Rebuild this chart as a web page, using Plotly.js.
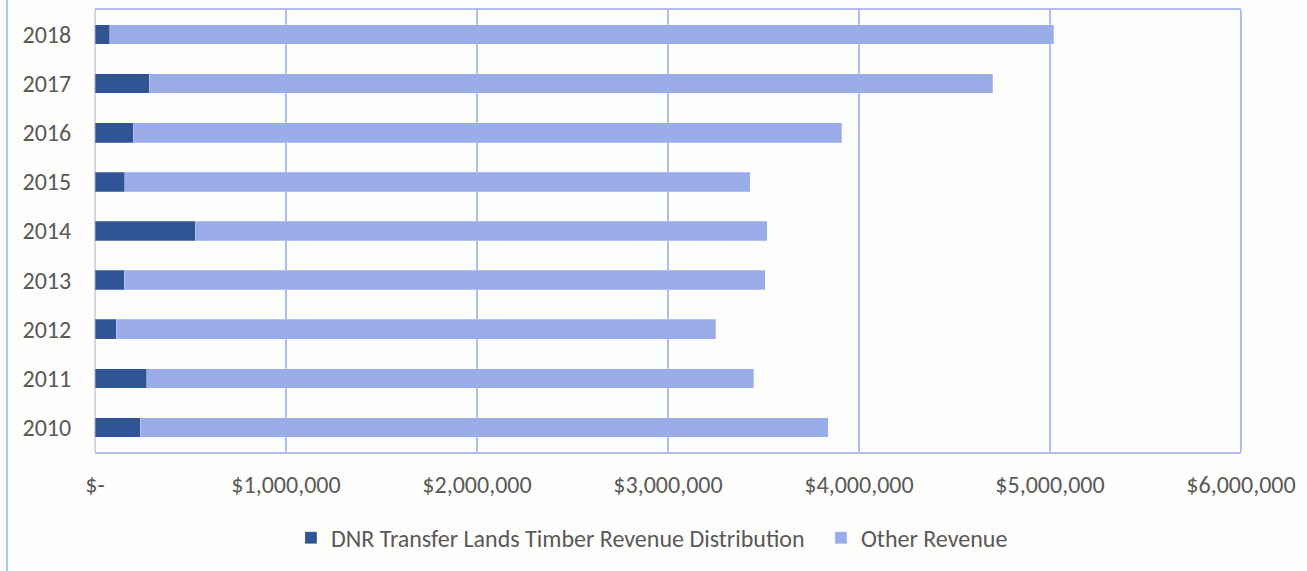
<!DOCTYPE html>
<html><head><meta charset="utf-8">
<script src="https://cdn.plot.ly/plotly-3.0.1.min.js"></script>
<style>html,body{margin:0;padding:0;background:#fdfdfb;}</style>
</head><body>
<div id="chart" style="width:1307px;height:571px;"></div>
<script>
var years = ['2010','2011','2012','2013','2014','2015','2016','2017','2018'];
var dnrTimber = [238000, 272000, 110000, 152000, 524000, 157000, 199000, 283000, 76000];
var otherRevenue = [3600000, 3178000, 3140000, 3358000, 2996000, 3273000, 3711000, 4417000, 4944000];
var tickValues = [0, 1000000, 2000000, 3000000, 4000000, 5000000, 6000000];
var tickLabels = ['$-', '$1,000,000', '$2,000,000', '$3,000,000', '$4,000,000', '$5,000,000', '$6,000,000'];

var fontFam = "Carlito, Calibri, 'Liberation Sans Narrow', sans-serif";
var frameColor = '#aebcef';

var traces = [
  {type:'bar', orientation:'h', y:years, x:dnrTimber, name:'DNR Transfer Lands Timber Revenue Distribution',
   legendwidth:485,
   marker:{color:'#2f5597', line:{color:'rgba(255,255,255,0.25)', width:1}}, hoverinfo:'x+y'},
  {type:'bar', orientation:'h', y:years, x:otherRevenue, name:'Other Revenue',
   marker:{color:'#9aade9', line:{color:'rgba(255,255,255,0.25)', width:1}}, hoverinfo:'x+y'}
];

var layout = {
  width:1307, height:571,
  margin:{l:95, r:66, t:10, b:111},
  paper_bgcolor:'#fdfdfb', plot_bgcolor:'#fdfdfb',
  barmode:'stack', bargap:0.6,
  font:{family:fontFam, color:'#595959', size:24},
  xaxis:{range:[0,6000000], tickvals:tickValues, ticktext:tickLabels,
         showgrid:true, gridcolor:frameColor, gridwidth:1.5,
         zeroline:true, zerolinecolor:'#d3d6de', zerolinewidth:2,
         showline:true, mirror:true, linecolor:frameColor, linewidth:2,
         ticks:'outside', ticklen:10, tickcolor:'rgba(0,0,0,0)', tickfont:{size:24, color:'#595959'}, automargin:false, fixedrange:true},
  yaxis:{type:'category', categoryorder:'array', categoryarray:years,
         showgrid:false, zeroline:false, showline:false, ticks:'outside', ticklen:18, tickcolor:'rgba(0,0,0,0)',
         tickfont:{size:24, color:'#595959'}, automargin:false, fixedrange:true},
  showlegend:true,
  legend:{orientation:'h', x:0.486, xanchor:'center', y:-0.195, yanchor:'middle',
          font:{size:24, color:'#595959'}, traceorder:'normal', itemwidth:30, bgcolor:'rgba(0,0,0,0)'},
  shapes:[
    {type:'line', xref:'paper', yref:'paper', x0:1, x1:1, y0:0, y1:1, line:{color:frameColor, width:2}},
    {type:'line', xref:'paper', yref:'paper', x0:-88/1146, x1:-88/1146, y0:-0.3, y1:1.05, line:{color:'#b4c4f0', width:2}}
  ]
};
Plotly.newPlot('chart', traces, layout, {displayModeBar:false, staticPlot:true});
</script>
</body></html>
